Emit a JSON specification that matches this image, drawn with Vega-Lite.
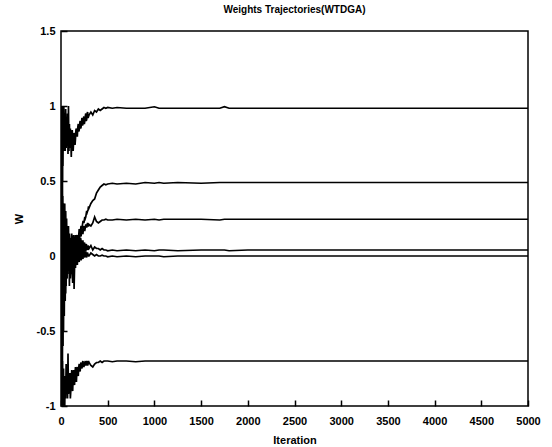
{
  "$schema": "https://vega.github.io/schema/vega-lite/v6.json",
  "width": 467,
  "height": 375,
  "autosize": "none",
  "padding": {"left": 61, "top": 31, "right": 24, "bottom": 41},
  "background": "white",
  "title": {"text": "Weights Trajectories(WTDGA)", "fontSize": 10, "font": "Liberation Sans", "fontWeight": "bold", "color": "black", "offset": 10, "anchor": "middle"},
  "config": {
    "view": {"stroke": "black", "strokeWidth": 1.5}
  },
  "data": {"values": [
    {"x":0,"a":0.0,"b":0.4,"c":0.3,"d":-0.2,"e":0.5,"f":0.0},
    {"x":3,"a":0.6,"b":-0.2,"c":0.8,"d":0.5,"e":-0.9,"f":-0.5},
    {"x":6,"a":1.0,"b":0.7,"c":-0.3,"d":-0.8,"e":0.2,"f":-1.0},
    {"x":9,"a":0.3,"b":0.2,"c":0.4,"d":0.2,"e":-1.0,"f":-0.6},
    {"x":12,"a":0.9,"b":0.5,"c":0.1,"d":-0.5,"e":-0.2,"f":-1.0},
    {"x":15,"a":0.5,"b":0.0,"c":0.6,"d":0.3,"e":-0.8,"f":-0.7},
    {"x":18,"a":1.0,"b":0.4,"c":-0.1,"d":-0.6,"e":0.0,"f":-0.95},
    {"x":21,"a":0.6,"b":0.1,"c":0.3,"d":0.1,"e":-0.6,"f":-0.8},
    {"x":24,"a":0.95,"b":0.35,"c":0.0,"d":-0.4,"e":0.1,"f":-1.0},
    {"x":27,"a":0.7,"b":-0.1,"c":0.35,"d":0.25,"e":-0.5,"f":-0.75},
    {"x":30,"a":1.0,"b":0.3,"c":-0.1,"d":-0.3,"e":0.05,"f":-0.95},
    {"x":35,"a":0.75,"b":0.1,"c":0.25,"d":0.2,"e":-0.4,"f":-0.85},
    {"x":40,"a":0.95,"b":0.35,"c":-0.05,"d":-0.2,"e":0.1,"f":-1.0},
    {"x":45,"a":0.7,"b":0.05,"c":0.3,"d":0.15,"e":-0.3,"f":-0.8},
    {"x":50,"a":0.98,"b":0.3,"c":-0.1,"d":-0.25,"e":0.05,"f":-0.95},
    {"x":55,"a":0.72,"b":0.0,"c":0.2,"d":0.15,"e":-0.2,"f":-0.72},
    {"x":60,"a":0.9,"b":0.25,"c":0.0,"d":-0.15,"e":0.1,"f":-0.9},
    {"x":65,"a":0.75,"b":0.05,"c":0.15,"d":0.12,"e":-0.15,"f":-0.8},
    {"x":70,"a":0.95,"b":0.2,"c":-0.05,"d":-0.1,"e":0.08,"f":-0.95},
    {"x":75,"a":0.68,"b":-0.05,"c":0.12,"d":0.14,"e":-0.12,"f":-0.65},
    {"x":80,"a":1.0,"b":0.2,"c":0.0,"d":-0.08,"e":0.06,"f":-0.92},
    {"x":85,"a":0.7,"b":0.0,"c":0.1,"d":0.12,"e":-0.1,"f":-0.8},
    {"x":90,"a":0.88,"b":0.15,"c":-0.05,"d":-0.2,"e":0.05,"f":-0.9},
    {"x":95,"a":0.72,"b":0.02,"c":0.08,"d":0.1,"e":-0.08,"f":-0.78},
    {"x":100,"a":0.85,"b":0.12,"c":0.02,"d":-0.15,"e":0.04,"f":-0.95},
    {"x":105,"a":0.78,"b":0.0,"c":0.12,"d":-0.05,"e":0.1,"f":-0.9},
    {"x":110,"a":0.66,"b":0.05,"c":0.08,"d":0.12,"e":-0.1,"f":-0.82},
    {"x":115,"a":0.78,"b":0.12,"c":-0.02,"d":0.15,"e":-0.12,"f":-0.76},
    {"x":120,"a":0.84,"b":0.1,"c":0.0,"d":-0.1,"e":0.06,"f":-0.88},
    {"x":125,"a":0.8,"b":0.0,"c":0.1,"d":-0.18,"e":0.08,"f":-0.9},
    {"x":130,"a":0.7,"b":0.03,"c":0.06,"d":0.1,"e":-0.05,"f":-0.8},
    {"x":135,"a":0.76,"b":0.12,"c":0.0,"d":0.14,"e":-0.1,"f":-0.76},
    {"x":140,"a":0.82,"b":0.08,"c":0.05,"d":-0.22,"e":0.05,"f":-0.84},
    {"x":145,"a":0.8,"b":0.02,"c":0.12,"d":-0.08,"e":0.08,"f":-0.86},
    {"x":150,"a":0.74,"b":0.06,"c":0.1,"d":0.1,"e":-0.05,"f":-0.78},
    {"x":155,"a":0.78,"b":0.12,"c":0.04,"d":0.14,"e":-0.08,"f":-0.74},
    {"x":160,"a":0.84,"b":0.1,"c":0.08,"d":-0.05,"e":0.04,"f":-0.8},
    {"x":165,"a":0.85,"b":0.05,"c":0.14,"d":-0.06,"e":0.06,"f":-0.84},
    {"x":170,"a":0.8,"b":0.09,"c":0.12,"d":0.12,"e":-0.03,"f":-0.76},
    {"x":175,"a":0.8,"b":0.14,"c":0.06,"d":0.13,"e":-0.06,"f":-0.74},
    {"x":180,"a":0.86,"b":0.12,"c":0.1,"d":0.0,"e":0.05,"f":-0.78},
    {"x":185,"a":0.88,"b":0.1,"c":0.14,"d":-0.02,"e":0.06,"f":-0.8},
    {"x":190,"a":0.83,"b":0.14,"c":0.13,"d":0.1,"e":-0.02,"f":-0.74},
    {"x":195,"a":0.84,"b":0.18,"c":0.1,"d":0.12,"e":-0.04,"f":-0.72},
    {"x":200,"a":0.88,"b":0.16,"c":0.12,"d":0.02,"e":0.04,"f":-0.75},
    {"x":205,"a":0.9,"b":0.15,"c":0.16,"d":0.0,"e":0.06,"f":-0.77},
    {"x":210,"a":0.85,"b":0.18,"c":0.15,"d":0.12,"e":0.0,"f":-0.72},
    {"x":215,"a":0.86,"b":0.2,"c":0.13,"d":0.1,"e":-0.03,"f":-0.71},
    {"x":220,"a":0.9,"b":0.19,"c":0.16,"d":0.04,"e":0.03,"f":-0.74},
    {"x":225,"a":0.92,"b":0.18,"c":0.18,"d":0.02,"e":0.05,"f":-0.75},
    {"x":230,"a":0.87,"b":0.21,"c":0.15,"d":0.1,"e":-0.01,"f":-0.71},
    {"x":235,"a":0.88,"b":0.23,"c":0.15,"d":0.1,"e":-0.02,"f":-0.7},
    {"x":240,"a":0.92,"b":0.23,"c":0.18,"d":0.05,"e":0.03,"f":-0.73},
    {"x":245,"a":0.93,"b":0.22,"c":0.2,"d":0.03,"e":0.04,"f":-0.74},
    {"x":250,"a":0.88,"b":0.24,"c":0.17,"d":0.09,"e":0.0,"f":-0.72},
    {"x":255,"a":0.9,"b":0.26,"c":0.17,"d":0.08,"e":-0.01,"f":-0.71},
    {"x":260,"a":0.93,"b":0.25,"c":0.19,"d":0.04,"e":0.02,"f":-0.7},
    {"x":265,"a":0.95,"b":0.26,"c":0.21,"d":0.03,"e":0.03,"f":-0.73},
    {"x":270,"a":0.9,"b":0.28,"c":0.2,"d":0.08,"e":0.0,"f":-0.72},
    {"x":275,"a":0.91,"b":0.3,"c":0.19,"d":0.07,"e":-0.01,"f":-0.7},
    {"x":280,"a":0.95,"b":0.29,"c":0.21,"d":0.05,"e":0.02,"f":-0.71},
    {"x":285,"a":0.96,"b":0.3,"c":0.22,"d":0.04,"e":0.02,"f":-0.73},
    {"x":290,"a":0.92,"b":0.31,"c":0.2,"d":0.07,"e":0.01,"f":-0.72},
    {"x":295,"a":0.93,"b":0.33,"c":0.2,"d":0.06,"e":0.0,"f":-0.7},
    {"x":300,"a":0.94,"b":0.32,"c":0.21,"d":0.05,"e":0.0,"f":-0.71},
    {"x":320,"a":0.96,"b":0.35,"c":0.2,"d":0.07,"e":0.02,"f":-0.73},
    {"x":340,"a":0.94,"b":0.37,"c":0.22,"d":0.04,"e":0.01,"f":-0.74},
    {"x":360,"a":0.97,"b":0.38,"c":0.26,"d":0.06,"e":0.0,"f":-0.72},
    {"x":380,"a":0.96,"b":0.42,"c":0.23,"d":0.05,"e":0.01,"f":-0.71},
    {"x":400,"a":0.98,"b":0.44,"c":0.22,"d":0.05,"e":0.0,"f":-0.71},
    {"x":420,"a":0.97,"b":0.46,"c":0.23,"d":0.04,"e":0.0,"f":-0.7},
    {"x":440,"a":0.98,"b":0.47,"c":0.24,"d":0.05,"e":0.005,"f":-0.71},
    {"x":460,"a":0.99,"b":0.48,"c":0.24,"d":0.04,"e":0.0,"f":-0.7},
    {"x":480,"a":0.985,"b":0.475,"c":0.245,"d":0.04,"e":0.0,"f":-0.7},
    {"x":500,"a":0.99,"b":0.48,"c":0.24,"d":0.035,"e":-0.005,"f":-0.7},
    {"x":550,"a":0.985,"b":0.485,"c":0.24,"d":0.04,"e":0.0,"f":-0.705},
    {"x":600,"a":0.99,"b":0.48,"c":0.245,"d":0.035,"e":-0.005,"f":-0.7},
    {"x":700,"a":0.985,"b":0.485,"c":0.24,"d":0.04,"e":0.0,"f":-0.7},
    {"x":800,"a":0.985,"b":0.48,"c":0.245,"d":0.035,"e":-0.005,"f":-0.705},
    {"x":900,"a":0.985,"b":0.49,"c":0.24,"d":0.04,"e":0.0,"f":-0.7},
    {"x":1000,"a":0.995,"b":0.485,"c":0.245,"d":0.035,"e":0.0,"f":-0.7},
    {"x":1050,"a":0.985,"b":0.49,"c":0.24,"d":0.04,"e":0.0,"f":-0.7},
    {"x":1100,"a":0.985,"b":0.485,"c":0.245,"d":0.04,"e":-0.005,"f":-0.7},
    {"x":1250,"a":0.985,"b":0.49,"c":0.245,"d":0.035,"e":0.0,"f":-0.7},
    {"x":1500,"a":0.985,"b":0.485,"c":0.245,"d":0.04,"e":0.0,"f":-0.7},
    {"x":1700,"a":0.985,"b":0.49,"c":0.24,"d":0.04,"e":0.0,"f":-0.7},
    {"x":1750,"a":0.995,"b":0.49,"c":0.245,"d":0.04,"e":0.0,"f":-0.7},
    {"x":1800,"a":0.985,"b":0.49,"c":0.245,"d":0.035,"e":0.0,"f":-0.7},
    {"x":2000,"a":0.985,"b":0.49,"c":0.245,"d":0.04,"e":0.0,"f":-0.7},
    {"x":2250,"a":0.985,"b":0.49,"c":0.245,"d":0.04,"e":0.0,"f":-0.7},
    {"x":2500,"a":0.985,"b":0.49,"c":0.245,"d":0.04,"e":0.0,"f":-0.7},
    {"x":2750,"a":0.985,"b":0.49,"c":0.245,"d":0.04,"e":0.0,"f":-0.7},
    {"x":3000,"a":0.985,"b":0.49,"c":0.245,"d":0.04,"e":0.0,"f":-0.7},
    {"x":3250,"a":0.985,"b":0.49,"c":0.245,"d":0.04,"e":0.0,"f":-0.7},
    {"x":3500,"a":0.985,"b":0.49,"c":0.245,"d":0.04,"e":0.0,"f":-0.7},
    {"x":3750,"a":0.985,"b":0.49,"c":0.245,"d":0.04,"e":0.0,"f":-0.7},
    {"x":4000,"a":0.985,"b":0.49,"c":0.245,"d":0.04,"e":0.0,"f":-0.7},
    {"x":4250,"a":0.985,"b":0.49,"c":0.245,"d":0.04,"e":0.0,"f":-0.7},
    {"x":4500,"a":0.985,"b":0.49,"c":0.245,"d":0.04,"e":0.0,"f":-0.7},
    {"x":4750,"a":0.985,"b":0.49,"c":0.245,"d":0.04,"e":0.0,"f":-0.7},
    {"x":5000,"a":0.985,"b":0.49,"c":0.245,"d":0.04,"e":0.0,"f":-0.7}
  ]},
  "transform": [{"fold": ["a","b","c","d","e","f"], "as": ["series","w"]}],
  "mark": {"type": "line", "color": "black", "strokeWidth": 1.7, "clip": true},
  "encoding": {
    "x": {"field": "x", "type": "quantitative", "scale": {"domain": [0, 5000], "nice": false}, "axis": {"orient": "bottom", "title": "Iteration", "tickCount": 10, "format": "d", "grid": false, "domain": false, "tickSize": -6, "tickWidth": 1.5, "tickColor": "black", "labelColor": "black", "labelFont": "Liberation Sans", "labelFontWeight": "bold", "labelFontSize": 11, "titleColor": "black", "titleFont": "Liberation Sans", "titleFontWeight": "bold", "titleFontSize": 11, "labelPadding": 15, "titlePadding": 8, "labelFlush": false}},
    "y": {"field": "w", "type": "quantitative", "scale": {"domain": [-1, 1.5], "nice": false, "zero": false}, "axis": {"orient": "left", "title": "W", "tickCount": 5, "labelExpr": "'' + datum.value", "grid": false, "domain": false, "tickSize": -6, "tickWidth": 1.5, "tickColor": "black", "labelColor": "black", "labelFont": "Liberation Sans", "labelFontWeight": "bold", "labelFontSize": 11, "titleColor": "black", "titleFont": "Liberation Sans", "titleFontWeight": "bold", "titleFontSize": 11, "labelPadding": 12, "titlePadding": 12}},
    "detail": {"field": "series", "type": "nominal"}
  }
}
